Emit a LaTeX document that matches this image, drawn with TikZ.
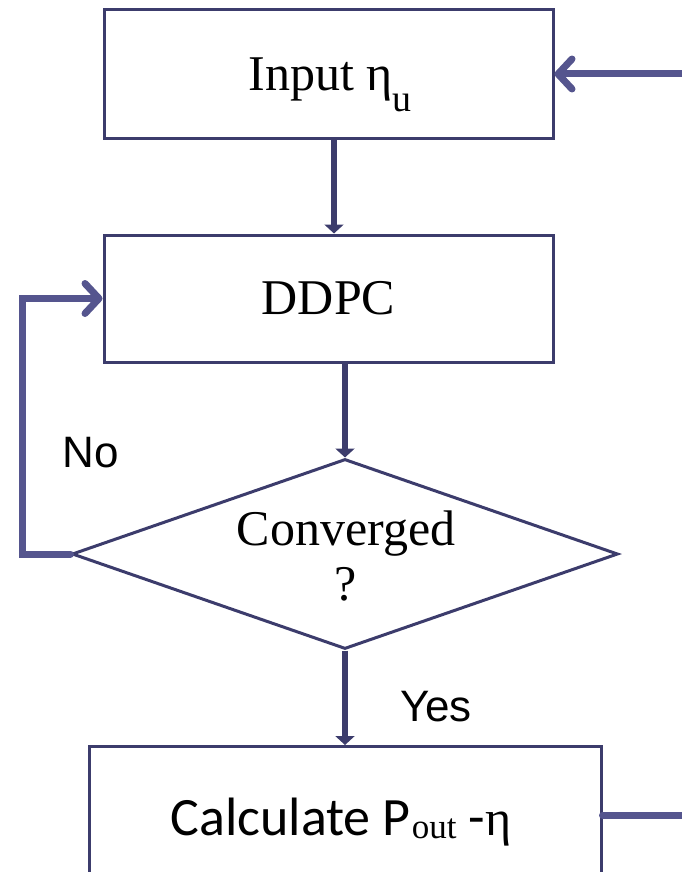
\documentclass[tikz,border=0pt]{standalone}
\usepackage{fontspec}
\setmainfont{Liberation Serif}
\newfontfamily\arialf{Liberation Sans}
\newfontfamily\calf{Carlito}
\usetikzlibrary{arrows.meta,shapes.geometric}
\definecolor{navy}{HTML}{3C3C6C}
\definecolor{lav}{HTML}{55558E}
\tikzset{
  box/.style={draw=navy, line width=3pt, fill=white, rectangle, inner sep=0pt},
  dn/.style={draw=navy, line width=6.5pt, -{Triangle[width=19pt,length=9pt]}},
  fb/.style={draw=lav, line width=7pt, line cap=round, line join=miter},
  fbarrow/.style={fb, -{Straight Barb[length=14pt,width=30pt,round]}},
  lbl/.style={font=\arialf\fontsize{44}{48}\selectfont, inner sep=0pt},
  sr/.style={font=\fontsize{50}{55}\selectfont, inner sep=0pt, align=center}
}
\begin{document}
\begin{tikzpicture}[x=1pt,y=-1pt]
\useasboundingbox (0,0) rectangle (682,872);
\clip (0,0) rectangle (682,872);
\node[box, minimum width=449pt, minimum height=128pt] (inp) at (328.5,74) {};
\node[inner sep=0pt, anchor=base] (inptext) at (330,91)
  {\fontsize{50}{55}\selectfont Input η\raisebox{-0.42em}{\fontsize{38}{40}\selectfont u}};
\node[box, minimum width=449pt, minimum height=127pt] (ddpc) at (328.5,298.5)
  {\fontsize{50}{55}\selectfont DDPC};
\node[draw=navy, line width=3pt, diamond, aspect=2.87, inner sep=0pt,
      minimum width=546pt, minimum height=190pt] (conv) at (345,554) {};
\node[sr, anchor=base] (convtext) at (346,545) {Converged};
\node[sr, anchor=base] (q) at (346,600) {?};
\node[box, minimum width=512pt, minimum height=200pt, anchor=north] (calc) at (345,745) {};
\node[inner sep=0pt, anchor=base] (calctext) at (341,835)
  {{\calf\fontsize{54}{58}\selectfont Calculate P}\kern1pt\raisebox{-0.32em}{\fontsize{35}{37}\selectfont out}{\calf\fontsize{54}{58}\selectfont\ -}{\fontsize{50}{55}\selectfont η}};
\coordinate (inR) at (682,74);
\coordinate (outR) at (682,815);
\draw[fbarrow] (inR) -- (inp.east);
\draw[dn] (inp.south -| 334,0) -- (ddpc.north -| 334,0);
\draw[dn] (ddpc.south -| conv.north) -- (conv.north);
\draw[fbarrow] (conv.west) -- ++(-48,0) |- (ddpc.west);
\draw[dn] (conv.south) -- (calc.north -| conv.south);
\draw[fb] (calc.east |- outR) -- (outR);
\node[lbl] (no) at (91,453) {No};
\node[lbl] (yes) at (436,707) {Yes};
\end{tikzpicture}
\end{document}
